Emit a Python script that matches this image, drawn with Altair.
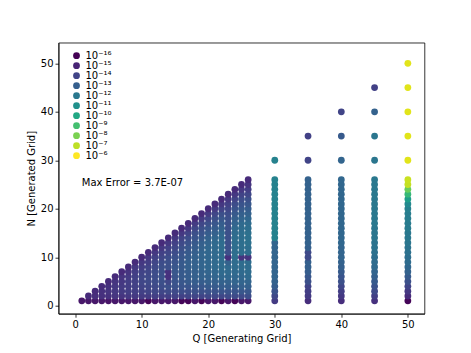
import altair as alt
import pandas as pd

# log10(error) for triangle, Q = 1..26, N = 1..Q
TRI_LOG = [
    [-15.4],
    [-15.4, -14.8],
    [-15.4, -14.7, -14.8],
    [-15.4, -14.6, -14.6, -14.8],
    [-15.5, -14.6, -14.5, -14.6, -14.8],
    [-15.4, -14.5, -14.4, -14.4, -14.5, -14.8],
    [-15.4, -14.5, -14.3, -14.3, -14.4, -14.5, -14.8],
    [-15.4, -14.4, -14.2, -14.2, -14.2, -14.3, -14.5, -14.8],
    [-15.4, -14.4, -14.2, -14.1, -14.1, -14.1, -14.2, -14.4, -14.8],
    [-15.4, -14.3, -14.1, -14.0, -13.9, -13.9, -14.0, -14.2, -14.4, -14.8],
    [-15.9, -14.3, -14.0, -13.9, -13.8, -13.8, -13.9, -14.0, -14.2, -14.4, -14.8],
    [-15.4, -14.2, -13.9, -13.8, -13.7, -13.7, -13.7, -13.8, -13.9, -14.1, -14.4, -14.8],
    [-15.4, -14.2, -13.9, -13.7, -13.6, -13.5, -13.6, -13.6, -13.7, -13.9, -14.1, -14.4, -14.8],
    [-15.4, -14.2, -13.8, -13.6, -13.9, -14.6, -14.6, -13.6, -13.6, -13.7, -13.9, -14.1, -14.4, -14.8],
    [-15.4, -14.1, -13.8, -13.5, -13.4, -13.4, -13.3, -13.3, -13.4, -13.5, -13.7, -13.9, -14.1, -14.4, -14.8],
    [-15.9, -14.1, -13.7, -13.4, -13.3, -13.2, -13.2, -13.2, -13.2, -13.3, -13.4, -13.6, -13.8, -14.0, -14.4, -14.8],
    [-15.9, -14.0, -13.7, -13.4, -13.2, -13.1, -13.1, -13.0, -13.0, -13.1, -13.2, -13.3, -13.5, -13.7, -14.0, -14.4, -14.8],
    [-15.4, -14.0, -13.6, -13.3, -13.1, -13.0, -13.0, -12.9, -12.9, -12.9, -13.0, -13.1, -13.2, -13.4, -13.6, -13.9, -14.3, -14.8],
    [-15.9, -14.0, -13.6, -13.3, -13.1, -12.9, -12.9, -12.8, -12.8, -12.8, -12.8, -12.9, -13.0, -13.2, -13.4, -13.6, -13.9, -14.3, -14.8],
    [-15.4, -13.9, -13.5, -13.2, -13.0, -12.9, -12.8, -12.7, -12.7, -12.7, -12.7, -12.7, -12.8, -12.9, -13.1, -13.3, -13.6, -13.9, -14.3, -14.8],
    [-15.4, -13.9, -13.5, -13.2, -13.0, -12.8, -12.7, -12.6, -12.6, -12.6, -12.6, -12.6, -12.6, -12.7, -12.9, -13.1, -13.3, -13.6, -13.9, -14.3, -14.8],
    [-15.9, -13.9, -13.4, -13.1, -12.9, -12.7, -12.6, -12.5, -12.5, -12.5, -12.5, -12.5, -12.5, -12.6, -12.7, -12.9, -13.1, -13.3, -13.6, -14.0, -14.4, -14.8],
    [-15.4, -13.8, -13.4, -13.1, -12.9, -12.7, -12.6, -12.6, -12.9, -14.6, -13.6, -13.6, -13.6, -13.6, -13.6, -13.6, -13.6, -13.6, -13.7, -13.9, -14.1, -14.4, -14.8],
    [-15.9, -13.8, -13.4, -13.1, -12.8, -12.7, -12.6, -12.5, -12.5, -12.4, -12.4, -12.4, -12.4, -12.4, -12.5, -12.6, -12.8, -13.0, -13.2, -13.4, -13.7, -14.0, -14.4, -14.8],
    [-15.4, -13.8, -13.3, -13.0, -12.8, -12.7, -12.6, -12.5, -12.5, -14.5, -12.4, -12.4, -12.4, -12.4, -12.4, -12.5, -12.6, -12.8, -13.0, -13.2, -13.4, -13.7, -14.0, -14.4, -14.8],
    [-15.4, -13.7, -13.3, -13.0, -12.8, -12.6, -12.5, -12.5, -12.5, -14.5, -12.4, -12.4, -12.3, -12.3, -12.3, -12.4, -12.5, -12.7, -12.9, -13.1, -13.3, -13.6, -13.9, -14.2, -14.5, -14.8],
]

# columns at larger Q, N = 1..26
COL_Q = [30, 35, 40, 45, 50]
COL_LOG = [
    [-14.3, -13.9, -13.5, -13.1, -12.9, -12.8, -12.8, -12.8, -12.8, -12.8, -12.8, -12.8, -12.8,
     -11.6, -11.6, -11.6, -11.6, -11.6, -11.6, -11.6, -11.6, -11.6, -11.6, -11.6, -11.6, -11.6],
    [-14.7, -14.3, -14.2, -14.0, -13.6, -13.3, -13.1, -13.0, -13.0, -13.8, -13.8, -13.0, -12.9,
     -12.9, -12.9, -12.9, -12.9, -12.9, -12.9, -12.9, -12.9, -12.9, -12.9, -12.9, -12.9, -12.9],
    [-14.7, -14.4, -14.2, -13.9, -13.6, -13.4, -13.2, -13.0, -12.9, -12.8, -12.8, -12.8, -12.7,
     -12.7, -12.7, -12.7, -12.7, -12.7, -12.7, -12.7, -12.7, -12.7, -12.7, -12.7, -12.7, -12.7],
    [-14.6, -14.2, -13.8, -13.5, -13.2, -13.0, -12.8, -12.6, -12.5, -12.4, -12.3, -12.2, -12.2,
     -12.1, -12.1, -12.1, -12.0, -12.0, -12.0, -12.0, -12.0, -12.0, -12.0, -12.0, -12.0, -12.0],
    [-15.9, -14.8, -14.4, -14.0, -13.6, -13.2, -12.9, -12.7, -12.5, -12.4, -12.3, -12.2, -12.1,
     -12.0, -12.0, -11.9, -11.9, -11.8, -11.8, -11.7, -11.3, -10.4, -9.3, -8.3, -6.9, -6.8],
]

# extra points above N = 26
EXTRA_N = [[30], [30, 35], [30, 35, 40], [30, 35, 40, 45], [30, 35, 40, 45, 50]]
EXTRA_LOG = [
    [-11.6],
    [-14.0, -14.1],
    [-12.8, -13.2, -14.0],
    [-12.1, -12.1, -12.9, -14.1],
    [-6.45, -6.45, -6.45, -6.45, -6.43],
]

X_TICKS = [0, 10, 20, 30, 40, 50]
Y_TICKS = [0, 10, 20, 30, 40, 50]

LEG_LABELS = ["10⁻¹⁶", "10⁻¹⁵", "10⁻¹⁴", "10⁻¹³", "10⁻¹²", "10⁻¹¹",
              "10⁻¹⁰", "10⁻⁹", "10⁻⁸", "10⁻⁷", "10⁻⁶"]
LEG_COLORS = ["#440154", "#482475", "#414487", "#355f8d", "#2a788e", "#21918c",
              "#22a884", "#44bf70", "#7ad151", "#bddf26", "#fde725"]

ANNOT = "Max Error = 3.7E-07"

rows = []
for qi, vals in enumerate(TRI_LOG):
    for ni, v in enumerate(vals):
        rows.append({"Q": qi + 1, "N": ni + 1, "logerr": v})
for q, vals, en, ev in zip(COL_Q, COL_LOG, EXTRA_N, EXTRA_LOG):
    for ni, v in enumerate(vals):
        rows.append({"Q": q, "N": ni + 1, "logerr": v})
    for n, v in zip(en, ev):
        rows.append({"Q": q, "N": n, "logerr": v})
df = pd.DataFrame(rows)

FONT = "DejaVu Sans"

xscale = alt.Scale(domain=[-2.5, 52.5], nice=False, zero=False)
yscale = alt.Scale(domain=[-1.65, 54.25], nice=False, zero=False)

pts = alt.Chart(df).mark_circle(size=46, opacity=1).encode(
    x=alt.X("Q:Q", scale=xscale,
            axis=alt.Axis(values=X_TICKS, title="Q [Generating Grid]", format="d")),
    y=alt.Y("N:Q", scale=yscale,
            axis=alt.Axis(values=Y_TICKS, title="N [Generated Grid]", format="d")),
    color=alt.Color("logerr:Q",
                    scale=alt.Scale(scheme="viridis", domain=[-16, -6], clamp=True),
                    legend=None),
)

leg = alt.Chart(pd.DataFrame({"label": LEG_LABELS})).mark_circle(opacity=0).encode(
    color=alt.Color("label:N",
                    scale=alt.Scale(domain=LEG_LABELS, range=LEG_COLORS),
                    legend=alt.Legend(title=None, orient="none", legendX=13, legendY=8,
                                      symbolType="circle", symbolSize=46,
                                      symbolStrokeWidth=0, symbolOpacity=1,
                                      labelFont=FONT, labelFontSize=10,
                                      labelColor="black", labelOffset=4,
                                      rowPadding=0, padding=0)),
)

txt = alt.Chart(pd.DataFrame({"t": [ANNOT]})).mark_text(
    align="left", baseline="middle", font=FONT, fontSize=10, color="black"
).encode(x=alt.datum(1), y=alt.datum(25.4), text="t:N")

chart = alt.layer(pts, leg, txt).resolve_scale(color="independent").properties(
    width=366, height=271,
    padding={"left": 50.5, "top": 34.7, "right": 30, "bottom": 30},
    autosize=alt.AutoSizeParams(type="none"),
).configure_view(
    stroke="black", strokeWidth=0.8
).configure_axis(
    grid=False, domainColor="black", domainWidth=0.8, tickColor="black",
    tickWidth=0.8, tickSize=3.5, labelColor="black", labelFont=FONT,
    labelFontSize=10, labelPadding=2, titleFont=FONT, titleFontSize=10,
    titleFontWeight="normal", titleColor="black", titlePadding=4,
)

chart.save("out.html", embed_options={"renderer": "svg", "actions": False})
